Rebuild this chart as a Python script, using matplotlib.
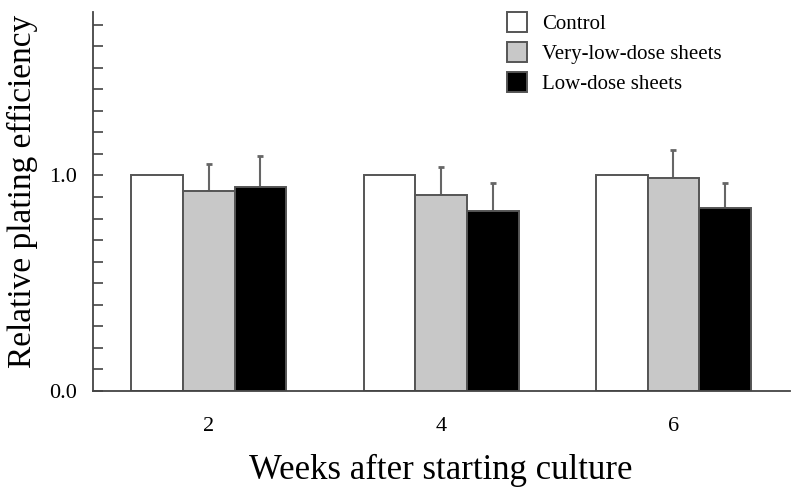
import matplotlib
matplotlib.use("Agg")
import matplotlib.pyplot as plt
import numpy as np
from matplotlib.patches import Patch

# values
weeks = ["2", "4", "6"]
control = [1.0, 1.0, 1.0]
very_low = [0.926, 0.910, 0.988]
very_low_err = [0.127, 0.129, 0.128]
low = [0.946, 0.837, 0.848]
low_err = [0.142, 0.128, 0.117]

plt.rcParams["font.family"] = ["Liberation Serif", "DejaVu Serif"]

fig = plt.figure(figsize=(7.92, 4.88), dpi=100)
ax = fig.add_axes([0.117, 0.199, 0.88, 0.777])

x = np.arange(len(weeks))
w = 0.222
edge = "#555555"

ax.bar(x - w, control, w, color="white", edgecolor=edge, linewidth=1.4, zorder=2)
ax.bar(x, very_low, w, color="#c8c8c8", edgecolor=edge, linewidth=1.4, zorder=2)
ax.bar(x + w, low, w, color="black", edgecolor=edge, linewidth=1.4, zorder=2)

# one-sided error bars (upper only)
ax.errorbar(x, very_low, yerr=[np.zeros(3), very_low_err], fmt="none",
            ecolor="#666666", elinewidth=1.5, capsize=2.5, capthick=2, zorder=1)
ax.errorbar(x + w, low, yerr=[np.zeros(3), low_err], fmt="none",
            ecolor="#666666", elinewidth=1.5, capsize=2.5, capthick=2, zorder=1)

ax.set_xlim(-0.5, 2.5)
ax.set_ylim(0, 1.76)
ax.set_xticks(x)
ax.set_xticklabels(weeks, fontsize=16)
ax.set_yticks([0.0, 1.0])
ax.set_yticklabels(["0.0", "1.0"], fontsize=16)
ax.set_yticks(np.arange(0.1, 1.8, 0.1), minor=True)
ax.tick_params(axis="x", length=0, pad=19)
ax.tick_params(axis="y", which="both", direction="in", length=7, width=1.2,
               color="#444444", pad=11)

for s in ["top", "right"]:
    ax.spines[s].set_visible(False)
ax.spines["left"].set_color("#444444")
ax.spines["bottom"].set_color("#444444")
ax.spines["left"].set_linewidth(1.3)
ax.spines["bottom"].set_linewidth(1.3)

ax.set_xlabel("Weeks after starting culture", fontsize=25, labelpad=13)
ax.set_ylabel("Relative plating efficiency", fontsize=24)
ax.yaxis.set_label_coords(-0.079, 0.526)

handles = [
    Patch(facecolor="white", edgecolor=edge, linewidth=1.4, label="Control"),
    Patch(facecolor="#c8c8c8", edgecolor=edge, linewidth=1.4, label="Very-low-dose sheets"),
    Patch(facecolor="black", edgecolor=edge, linewidth=1.4, label="Low-dose sheets"),
]
ax.legend(handles=handles, loc="upper left", bbox_to_anchor=(0.594, 1.0),
          frameon=False, fontsize=15, handlelength=0.96, handleheight=1.1,
          handletextpad=0.72, labelspacing=0.38, borderpad=0, borderaxespad=0)

fig.savefig("out.png", dpi=100)
